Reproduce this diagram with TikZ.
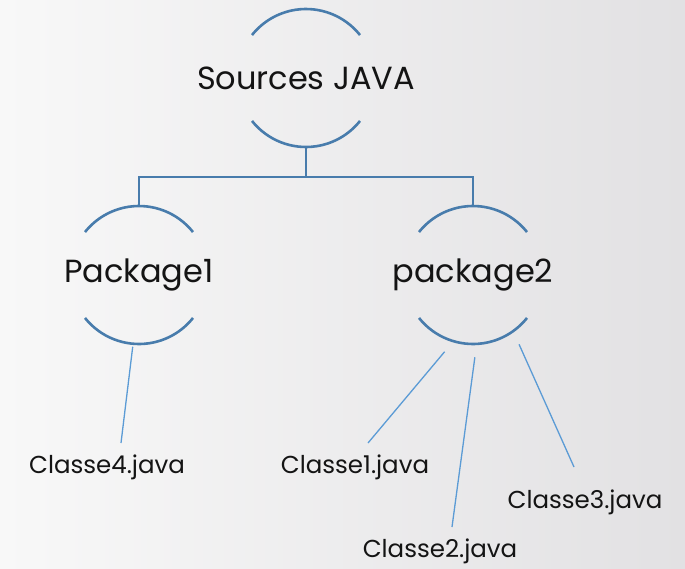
\documentclass[tikz,border=0pt]{standalone}
\usepackage{fontspec}
\setmainfont{Poppins}
\usetikzlibrary{calc}
\definecolor{arcblue}{RGB}{72,124,172}
\definecolor{leafblue}{RGB}{91,155,213}
\definecolor{bgleft}{RGB}{248,248,248}
\definecolor{bgright}{RGB}{226,225,227}
\definecolor{ink}{RGB}{20,20,20}
\tikzset{
  hub/.style={circle, minimum size=138pt, inner sep=0pt, outer sep=0pt},
  hubarc/.style={draw=arcblue, line width=2.6pt},
  trunk/.style={draw=arcblue, line width=2.6pt},
  leafline/.style={draw=leafblue, line width=1.3pt},
  title/.style={text=ink, font=\fontsize{32}{36}\selectfont, inner sep=0pt},
  leaf/.style={text=ink, font=\fontsize{24.5}{28}\selectfont, inner sep=0pt},
}
\newcommand{\hubrings}[1]{%
  \draw[hubarc] ($(#1)+(38.5:69pt)$) arc[start angle=38.5, end angle=141.5, radius=69pt];
  \draw[hubarc] ($(#1)+(218.5:69pt)$) arc[start angle=218.5, end angle=321.5, radius=69pt];
}
\begin{document}
\begin{tikzpicture}[x=1pt, y=-1pt]
  % background
  \shade[left color=bgleft, right color=bgright] (0,0) rectangle (685,568);
  \useasboundingbox (0,0) rectangle (685,568);

  % hubs
  \node[hub] (root) at (306,78) {};
  \node[hub] (p1) at (139,275) {};
  \node[hub] (p2) at (473,275) {};
  \hubrings{root}
  \hubrings{p1}
  \hubrings{p2}

  % hub labels
  \node[title] (root-text) at (root) {Sources JAVA};
  \node[title] (p1-text) at (p1) {Package1};
  \node[title] (p2-text) at (p2) {package2};

  % leaves
  \node[leaf] (c4) at (107,467) {Classe4.java};
  \node[leaf] (c1) at (355,467) {Classe1.java};
  \node[leaf] (c2) at (440,551) {Classe2.java};
  \node[leaf] (c3) at (585,502) {Classe3.java};

  % trunk from the root to both packages
  \draw[trunk] (root.south) -- ++(0,30) coordinate (bus) -| (p1.north);
  \draw[trunk] (bus) -| (p2.north);

  % package to file links
  \draw[leafline] ([shift={(-95:72pt)}]p1.center) -- ([shift={(14,-24)}]c4.center);
  \draw[leafline] ([shift={(-110.3:81.8pt)}]p2.center) -- ([shift={(13,-24)}]c1.center);
  \draw[leafline] ([shift={(-88.7:82.3pt)}]p2.center) -- ([shift={(12,-24)}]c2.center);
  \draw[leafline] ([shift={(-56.4:83.2pt)}]p2.center) -- ([shift={(-11,-35)}]c3.center);
\end{tikzpicture}
\end{document}
